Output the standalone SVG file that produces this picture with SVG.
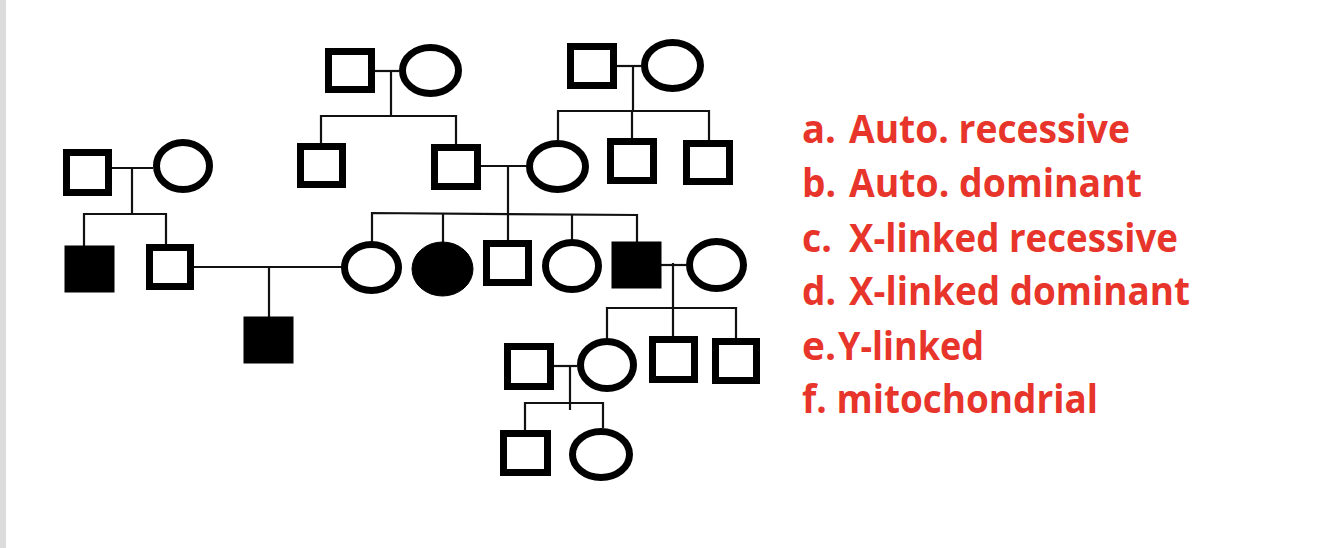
<svg xmlns="http://www.w3.org/2000/svg" width="1334" height="548" viewBox="0 0 1334 548">
<style>
.o{fill:#fff;stroke:#000;stroke-width:7}
.f{fill:#000;stroke:#000;stroke-width:1}
.c line,.c polyline{stroke:#111;stroke-width:2.2;fill:none}
.t{font-family:"Open Sans","Liberation Sans",sans-serif;font-weight:bold;font-size:39px;fill:#E8352B}
</style>
<rect x="0" y="0" width="1334" height="548" fill="#fff"/>
<rect x="0" y="0" width="6" height="548" fill="#dcdcdc"/>
<g class="c" id="connectors">
<line x1="375" y1="71" x2="399" y2="71"/><line x1="391" y1="71" x2="391" y2="116"/>
<polyline points="321,143 321,116 456,116 456,144"/>
<line x1="617" y1="66" x2="641" y2="66"/><line x1="633" y1="66" x2="633" y2="111"/>
<polyline points="558,140 558,111 709,111 709,140"/><line x1="632" y1="111" x2="632" y2="138"/>
<line x1="112" y1="168" x2="153" y2="168"/><line x1="132" y1="168" x2="132" y2="214"/>
<polyline points="84,246 84,214 166,214 166,244"/>
<line x1="481" y1="166" x2="526" y2="166"/><line x1="508" y1="166" x2="508" y2="213"/>
<polyline points="372,241 372,213 637,215 637,242"/>
<line x1="443" y1="213.5" x2="443" y2="242"/><line x1="508" y1="213.5" x2="508" y2="240"/><line x1="572" y1="214" x2="572" y2="239"/>
<line x1="194" y1="267" x2="341" y2="267"/><line x1="269" y1="267" x2="269" y2="317"/>
<line x1="661" y1="265" x2="686" y2="265"/><line x1="673" y1="263" x2="673" y2="308"/>
<polyline points="607,338 607,308 736,308 736,338"/><line x1="673" y1="308" x2="673" y2="336"/>
<line x1="554" y1="366" x2="577" y2="366"/><line x1="570" y1="366" x2="570" y2="410"/>
<polyline points="525,430 525,403 603,403 603,428"/>
</g>
<g id="gp1-m"><rect class="o" x="328.5" y="51.5" width="43" height="38"/></g>
<g id="gp1-f"><ellipse class="o" cx="430.5" cy="70.5" rx="28" ry="23"/></g>
<g id="gp2-m"><rect class="o" x="570.5" y="46.5" width="43" height="39"/></g>
<g id="gp2-f"><ellipse class="o" cx="672.5" cy="65.5" rx="28" ry="23"/></g>
<g id="lgp-m"><rect class="o" x="66.5" y="152.5" width="42" height="40"/></g>
<g id="lgp-f"><ellipse class="o" cx="183" cy="166" rx="26.5" ry="23.5"/></g>
<g id="gp1-son1"><rect class="o" x="300.5" y="146.5" width="42" height="38"/></g>
<g id="father"><rect class="o" x="434.5" y="147.5" width="43" height="39"/></g>
<g id="mother"><ellipse class="o" cx="557.5" cy="166.5" rx="28" ry="23"/></g>
<g id="gp2-son1"><rect class="o" x="610.5" y="141.5" width="43" height="39"/></g>
<g id="gp2-son2"><rect class="o" x="686.5" y="143.5" width="43" height="38"/></g>
<g id="lgp-son-aff"><rect class="f" x="65" y="246" width="49" height="46"/></g>
<g id="lgp-son"><rect class="o" x="149.5" y="247.5" width="41" height="39"/></g>
<g id="grandson-aff"><rect class="f" x="244" y="317" width="49" height="46"/></g>
<g id="sib1"><ellipse class="o" cx="371.5" cy="267.5" rx="27" ry="23"/></g>
<g id="sib2-aff"><ellipse class="f" cx="442.5" cy="269" rx="30.5" ry="27"/></g>
<g id="sib3"><rect class="o" x="486.5" y="243.5" width="42" height="39"/></g>
<g id="sib4"><ellipse class="o" cx="572" cy="266" rx="26.5" ry="23.5"/></g>
<g id="sib5-aff"><rect class="f" x="612" y="242" width="49" height="46"/></g>
<g id="sib5-wife"><ellipse class="o" cx="716.5" cy="265" rx="27" ry="23.5"/></g>
<g id="g4-husband"><rect class="o" x="507.5" y="346.5" width="43" height="40"/></g>
<g id="g4-daughter"><ellipse class="o" cx="607" cy="365" rx="26.5" ry="23.5"/></g>
<g id="g4-son1"><rect class="o" x="652.5" y="339.5" width="42" height="40"/></g>
<g id="g4-son2"><rect class="o" x="715.5" y="341.5" width="41" height="39"/></g>
<g id="g5-son"><rect class="o" x="503.5" y="433.5" width="44" height="39"/></g>
<g id="g5-daughter"><ellipse class="o" cx="601" cy="454.5" rx="28.5" ry="23"/></g>
<g id="legend">
<text class="t" x="802" y="143" textLength="34" lengthAdjust="spacingAndGlyphs">a.</text><text class="t" x="849" y="143" textLength="281" lengthAdjust="spacingAndGlyphs">Auto. recessive</text>
<text class="t" x="802" y="197" textLength="34" lengthAdjust="spacingAndGlyphs">b.</text><text class="t" x="849" y="197" textLength="293" lengthAdjust="spacingAndGlyphs">Auto. dominant</text>
<text class="t" x="802" y="252" textLength="30" lengthAdjust="spacingAndGlyphs">c.</text><text class="t" x="849" y="252" textLength="329" lengthAdjust="spacingAndGlyphs">X-linked recessive</text>
<text class="t" x="802" y="305" textLength="34" lengthAdjust="spacingAndGlyphs">d.</text><text class="t" x="849" y="305" textLength="341" lengthAdjust="spacingAndGlyphs">X-linked dominant</text>
<text class="t" x="802" y="360" textLength="34" lengthAdjust="spacingAndGlyphs">e.</text><text class="t" x="838" y="360" textLength="146" lengthAdjust="spacingAndGlyphs">Y-linked</text>
<text class="t" x="802" y="413" textLength="296" lengthAdjust="spacingAndGlyphs">f. mitochondrial</text>
</g>
</svg>
